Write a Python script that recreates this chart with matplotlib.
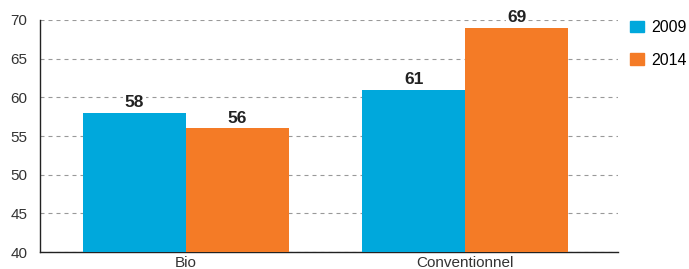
import matplotlib.pyplot as plt
import numpy as np
from matplotlib.patches import Patch

plt.rcParams['font.family'] = ['Liberation Sans', 'DejaVu Sans']

categories = ["Bio", "Conventionnel"]
years = ["2009", "2014"]
values_2009 = [58, 61]
values_2014 = [56, 69]

blue = "#00A8DC"
orange = "#F47B26"

fig = plt.figure(figsize=(6.89, 2.69), dpi=100)
ax = fig.add_axes([40 / 689, 1 - 252 / 269, 578 / 689, 232 / 269])

x = np.arange(len(categories))
w = 0.369
b1 = ax.bar(x - w / 2, values_2009, w, color=blue, zorder=3)
b2 = ax.bar(x + w / 2, values_2014, w, color=orange, zorder=3)

for bars, vals in ((b1, values_2009), (b2, values_2014)):
    for r, v in zip(bars, vals):
        ax.text(r.get_x() + r.get_width() / 2, v + 0.35, str(v), ha="center", va="bottom",
                fontsize=12.5, fontweight="bold", color="#222222", zorder=4,
                bbox=dict(facecolor="white", edgecolor="none", pad=1))

ax.set_ylim(40, 70)
ax.set_xlim(-0.523, 1.548)
ax.set_yticks(range(40, 71, 5))
ax.set_xticks(x)
ax.set_xticklabels(categories)
ax.tick_params(length=0, labelsize=11, colors="#333333")
ax.tick_params(axis="x", pad=3)
ax.tick_params(axis="y", pad=9)
ax.yaxis.grid(True, linestyle=(0, (3.6, 3.6)), color="#999999", linewidth=0.8, zorder=0)
for s in ("top", "right"):
    ax.spines[s].set_visible(False)
for s in ("left", "bottom"):
    ax.spines[s].set_color("#222222")
    ax.spines[s].set_linewidth(1)

handles = [Patch(color=blue), Patch(color=orange)]
fig.legend(handles, years, loc="upper left", bbox_to_anchor=(630 / 689, 1 - 20 / 269),
           frameon=False, handlelength=0.9, handleheight=0.75, handletextpad=0.4,
           labelspacing=1.1, fontsize=11.5, borderaxespad=0, borderpad=0)

fig.savefig("out.png", dpi=100)
